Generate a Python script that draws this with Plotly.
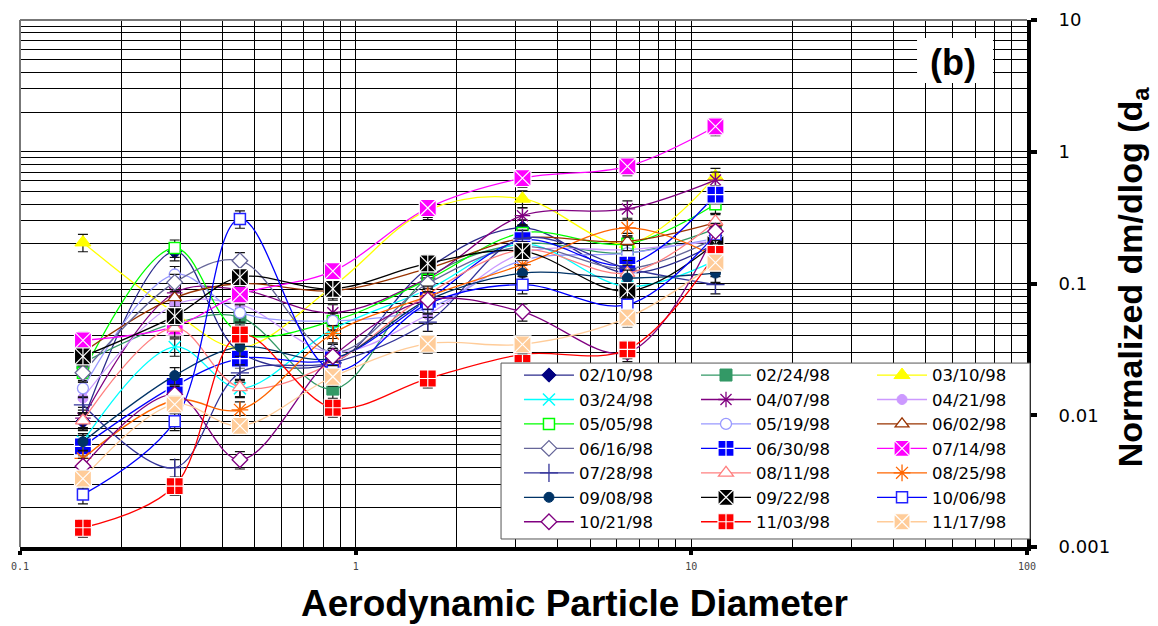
import plotly.graph_objects as go

# Aerodynamic diameter (µm) of each size bin
diameters = [0.154, 0.289, 0.452, 0.855, 1.64, 3.14, 6.45, 11.8]

dates = ["02/10/98", "02/24/98", "03/10/98", "03/24/98", "04/07/98", "04/21/98", "05/05/98",
         "05/19/98", "06/02/98", "06/16/98", "06/30/98", "07/14/98", "07/28/98", "08/11/98",
         "08/25/98", "09/08/98", "09/22/98", "10/06/98", "10/21/98", "11/03/98", "11/17/98"]

s_0210 = [0.009, 0.175, 0.03, 0.025, 0.13, 0.264, 0.12, 0.20]
s_0224 = [0.025, 0.05, 0.0556, 0.0158, 0.11, 0.20, 0.17, 0.26]
s_0310 = [0.205, 0.06, 0.0326, 0.095, 0.36, 0.44, 0.20, 0.65]
s_0324 = [0.0063, 0.033, 0.016, 0.045, 0.09, 0.20, 0.095, 0.15]
s_0407 = [0.0095, 0.085, 0.09, 0.060, 0.11, 0.327, 0.368, 0.61]
s_0421 = [0.0135, 0.069, 0.069, 0.030, 0.058, 0.17, 0.181, 0.21]
s_0505 = [0.021, 0.186, 0.042, 0.052, 0.107, 0.242, 0.20, 0.40]
s_0519 = [0.016, 0.117, 0.06, 0.052, 0.065, 0.15, 0.17, 0.22]
s_0602 = [0.030, 0.078, 0.10, 0.088, 0.13, 0.22, 0.209, 0.29]
s_0616 = [0.021, 0.102, 0.149, 0.030, 0.10, 0.19, 0.13, 0.22]
s_0630 = [0.0058, 0.0167, 0.0269, 0.0265, 0.075, 0.213, 0.139, 0.472]
s_0714 = [0.037, 0.047, 0.0826, 0.124, 0.374, 0.63, 0.774, 1.556]
s_0728 = [0.012, 0.0040, 0.021, 0.025, 0.051, 0.22, 0.13, 0.098]
s_0811 = [0.0091, 0.046, 0.0163, 0.025, 0.083, 0.18, 0.12, 0.296]
s_0825 = [0.0047, 0.013, 0.011, 0.0417, 0.08, 0.139, 0.264, 0.16]
s_0908 = [0.0063, 0.020, 0.033, 0.027, 0.075, 0.12, 0.11, 0.12]
s_0922 = [0.028, 0.0566, 0.1117, 0.091, 0.142, 0.176, 0.0875, 0.203]
s_1006 = [0.0025, 0.009, 0.309, 0.022, 0.07, 0.098, 0.069, 0.235]
s_1021 = [0.0041, 0.0144, 0.0046, 0.028, 0.075, 0.061, 0.030, 0.249]
s_1103 = [0.0014, 0.0029, 0.041, 0.0114, 0.019, 0.029, 0.0316, 0.168]
s_1117 = [0.0033, 0.0121, 0.0083, 0.0196, 0.0349, 0.0345, 0.055, 0.144]

values = [s_0210, s_0224, s_0310, s_0324, s_0407, s_0421, s_0505, s_0519, s_0602, s_0616,
          s_0630, s_0714, s_0728, s_0811, s_0825, s_0908, s_0922, s_1006, s_1021, s_1103, s_1117]

# style: (line colour, marker fill, symbol, size, marker outline colour, outline width)
styles = [
    ("#2b2b8c", "#000080", "diamond", 11, "#000080", 1),
    ("#339966", "#339966", "square", 12, "#339966", 1),
    ("#FFFF00", "#FFFF00", "triangle-up", 14, "#FFFF00", 1),
    ("#00FFFF", "#00FFFF", "x-thin-open", 12, "#00FFFF", 1.5),
    ("#800080", "#800080", "asterisk-open", 13, "#800080", 1.3),
    ("#CC99FF", "#CC99FF", "circle", 10, "#CC99FF", 1),
    ("#00FF00", "white", "square", 11, "#00FF00", 1.5),
    ("#9999FF", "white", "circle", 11, "#9999FF", 1.3),
    ("#993300", "white", "triangle-up", 12, "#993300", 1.3),
    ("#666699", "white", "diamond", 12, "#666699", 1.3),
    ("#0000FF", "#0000FF", "square-cross", 17, "white", 1.2),
    ("#FF00FF", "#FF00FF", "square-x", 17, "white", 1.2),
    ("#333399", "#333399", "cross-thin-open", 13, "#333399", 1.3),
    ("#FF8080", "white", "triangle-up", 13, "#FF8080", 1.3),
    ("#FF6600", "#FF6600", "asterisk-open", 14, "#FF6600", 1.3),
    ("#003366", "#003366", "circle", 10, "#003366", 1),
    ("#000000", "#000000", "square-x", 17, "white", 1.2),
    ("#0000FF", "white", "square", 11, "#2222FF", 1.5),
    ("#800080", "white", "diamond", 12, "#800080", 1.3),
    ("#FF0000", "#FF0000", "square-cross", 17, "white", 1.2),
    ("#FFCC99", "#FFCC99", "square-x", 17, "white", 1.2),
]

legend_of = ["legend", "legend2", "legend3"]

fig = go.Figure()
for i, (name, vals, st) in enumerate(zip(dates, values, styles)):
    lc, mc, sym, sz, mlc, mlw = st
    fig.add_trace(go.Scatter(
        x=diameters, y=vals, name=name, mode="lines+markers",
        line=dict(color=lc, width=1.3, shape="spline", smoothing=1.0),
        marker=dict(symbol=sym, size=sz, color=mc, line=dict(color=mlc, width=mlw)),
        error_y=dict(type="percent", value=15, color="#111111", thickness=1.2, width=5),
        legend=legend_of[i % 3],
    ))
    if name == "09/22/98":
        fig.add_trace(go.Scatter(
            x=diameters, y=vals, mode="markers", showlegend=False, hoverinfo="skip",
            marker=dict(symbol="line-ns-open", size=12, color="white", line=dict(color="white", width=1.2)),
        ))

minor_x = [m * 10 ** e for e in (-1, 0, 1) for m in range(2, 10)]
minor_y = [m * 10 ** e for e in (-3, -2, -1, 0) for m in range(2, 10)]

fig.update_xaxes(
    type="log", range=[-1, 2], tickvals=[0.1, 1, 10, 100], ticktext=["0.1", "1", "10", "100"],
    showgrid=True, gridcolor="black", gridwidth=1, automargin=False,
    minor=dict(tickvals=minor_x, showgrid=True, gridcolor="black", gridwidth=1, ticks=""),
    showline=True, linecolor="black", linewidth=4, ticks="outside", ticklen=4, tickwidth=4,
    tickcolor="black", ticklabelstandoff=3,
    tickfont=dict(family="DejaVu Sans Mono", size=10, color="#444444"), zeroline=False,
)
fig.update_yaxes(
    type="log", range=[-3, 1], side="right", tickvals=[0.001, 0.01, 0.1, 1, 10],
    ticktext=["0.001", "0.01", "0.1", "1", "10"],
    showgrid=True, gridcolor="black", gridwidth=1, automargin=False,
    minor=dict(tickvals=minor_y, showgrid=True, gridcolor="black", gridwidth=1, ticks=""),
    showline=True, linecolor="black", linewidth=4, ticks="outside", ticklen=6, tickwidth=4,
    tickcolor="black", ticklabelstandoff=18,
    tickfont=dict(family="DejaVu Sans", size=18, color="black"), zeroline=False,
)

leg_common = dict(orientation="v", xanchor="left", yanchor="top", bgcolor="rgba(0,0,0,0)",
                  borderwidth=0, font=dict(family="DejaVu Sans", size=16.5, color="black"),
                  itemwidth=50, tracegroupgap=0)

fig.update_layout(
    width=1150, height=618,
    margin=dict(l=12, r=131, t=12, b=79, autoexpand=False),
    paper_bgcolor="white", plot_bgcolor="white",
    legend=dict(x=0.4955, y=0.359, **leg_common),
    legend2=dict(x=0.6713, y=0.359, **leg_common),
    legend3=dict(x=0.8461, y=0.359, **leg_common),
    shapes=[
        dict(type="rect", xref="paper", yref="paper", x0=0.4777, x1=1.003, y0=0.0152, y1=0.349,
             fillcolor="white", line=dict(color="#555555", width=1), layer="above"),
        dict(type="rect", xref="paper", yref="paper", x0=0.8908, x1=0.9662, y0=0.8805, y1=0.9658,
             fillcolor="white", line=dict(width=0), layer="above"),
        dict(type="line", xref="paper", yref="paper", x0=0, x1=0, y0=0, y1=1,
             line=dict(color="#777777", width=2), layer="above"),
        dict(type="line", xref="paper", yref="paper", x0=0, x1=1, y0=1, y1=1,
             line=dict(color="#777777", width=2), layer="above"),
    ],
    annotations=[
        dict(text="<b>(b)</b>", xref="paper", yref="paper", x=0.9265, y=0.920, showarrow=False,
             xanchor="center", yanchor="middle",
             font=dict(family="Arial", size=36, color="black")),
        dict(text="<b>Aerodynamic Particle Diameter</b>", xref="paper", yref="paper",
             x=0.551, y=-0.1063, showarrow=False, xanchor="center", yanchor="middle",
             font=dict(family="Arial", size=37, color="black")),
        dict(text="<b>Normalized dm/dlog (d<sub>a</sub></b>", xref="paper", yref="paper",
             x=1.1043, y=0.512, textangle=-90, showarrow=False, xanchor="center", yanchor="middle",
             font=dict(family="Arial", size=34, color="black")),
    ],
)

fig.write_html("out.html")
